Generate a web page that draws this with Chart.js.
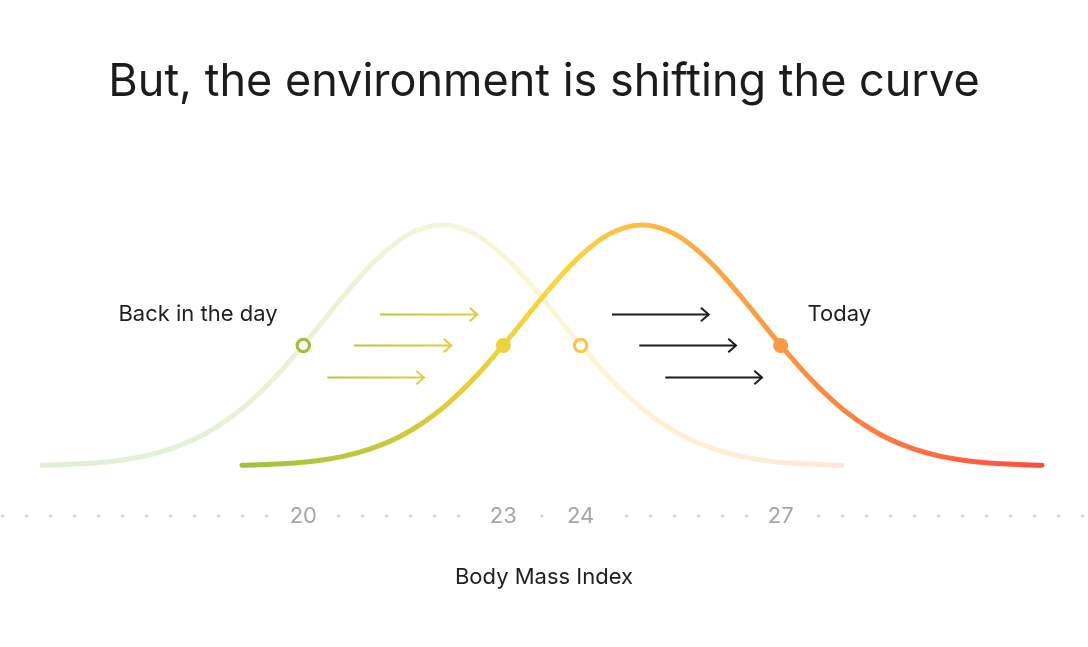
<!DOCTYPE html>
<html>
<head>
<meta charset="utf-8">
<script src="https://cdn.jsdelivr.net/npm/chart.js@4.4.1/dist/chart.umd.min.js"></script>
<style>
  html, body { margin: 0; padding: 0; background: #ffffff; }
  #wrap { width: 1088px; height: 647px; position: relative; }
</style>
</head>
<body>
<div id="wrap"><canvas id="chart"></canvas></div>
<script>
// Body Mass Index position of each sample along the two curves
const pastX = [16, 16.5, 17, 17.5, 18, 18.5, 19, 19.5, 20, 20.5, 21, 21.5, 22, 22.5, 23, 23.5, 24, 24.5, 25, 25.5, 26, 26.5, 27, 27.5, 28]
const pastY = [0.3, 0.8, 1.8, 3.9, 7.8, 14.2, 23.8, 36.9, 52.8, 69.8, 85.2, 96.1, 100, 96.1, 85.2, 69.8, 52.8, 36.9, 23.8, 14.2, 7.8, 3.9, 1.8, 0.8, 0.3]
const todayX = [19, 19.5, 20, 20.5, 21, 21.5, 22, 22.5, 23, 23.5, 24, 24.5, 25, 25.5, 26, 26.5, 27, 27.5, 28, 28.5, 29, 29.5, 30, 30.5, 31]
const todayY = [0.3, 0.8, 1.8, 3.9, 7.8, 14.2, 23.8, 36.9, 52.8, 69.8, 85.2, 96.1, 100, 96.1, 85.2, 69.8, 52.8, 36.9, 23.8, 14.2, 7.8, 3.9, 1.8, 0.8, 0.3]

// marked points (half height of each curve)
const pastMarkX = [19.92, 24.08]
const pastMarkY = [50, 50]
const todayMarkX = [22.92, 27.08]
const todayMarkY = [50, 50]

// tick labels on the axis, placed at the marked points
const tickValues = [19.92, 22.92, 24.08, 27.08]
const tickLabels = ['20', '23', '24', '27']

// shift arrows
const arrowY = [63, 50, 37]
const pastArrowFrom = [21.07, 20.68, 20.28]
const pastArrowTo = [22.53, 22.14, 21.73]
const todayArrowFrom = [24.55, 24.96, 25.35]
const todayArrowTo = [26.0, 26.41, 26.8]

// curve labels
const curveLabels = ['Back in the day', 'Today']
const curveLabelX = [18.34, 27.96]
const curveLabelY = [63, 63]

const FONT = 'Inter, "Noto Sans", sans-serif'

const pastStops = [[0, '#e0eed8'], [0.3, '#eaf2d6'], [0.5, '#f4f5da'], [0.65, '#fcf5d6'], [0.8, '#fef0d6'], [1, '#fde6dc']]
const todayStops = [[0, '#9cc23e'], [0.22, '#d2cb3c'], [0.325, '#eed341'], [0.395, '#fdd543'], [0.495, '#fdbd46'], [0.673, '#fa9842'], [0.818, '#ff7545'], [1, '#ff4d3f']]

function curveGradient(chart, stops, from, to) {
  const area = chart.chartArea
  if (!area) return stops[0][1]
  const xs = chart.scales.x
  const g = chart.ctx.createLinearGradient(xs.getPixelForValue(from), 0, xs.getPixelForValue(to), 0)
  stops.forEach(([o, c]) => g.addColorStop(o, c))
  return g
}

const dottedAxis = {
  id: 'dottedAxis',
  afterDraw(chart) {
    const scale = chart.scales.x
    const ctx = chart.ctx
    const tickOpts = scale.options.ticks
    const font = Chart.helpers.toFont(tickOpts.font)
    const y = scale.top + tickOpts.padding + font.lineHeight / 2
    ctx.save()
    ctx.font = font.string
    const zones = scale.ticks.map((t, i) => {
      const px = scale.getPixelForValue(t.value)
      const half = ctx.measureText(tickLabels[i]).width / 2 + 17
      return [px - half, px + half]
    })
    const inZone = (px) => zones.some(([a, b]) => px > a && px < b)
    const dots = []
    for (let px = chart.chartArea.left + 2.7; px <= chart.chartArea.right; px += 24) {
      if (!inZone(px)) dots.push(px)
    }
    for (let i = 0; i < zones.length - 1; i++) {
      const a = zones[i][1]
      const b = zones[i + 1][0]
      if (b > a && !dots.some((d) => d > a && d < b)) dots.push((a + b) / 2)
    }
    ctx.fillStyle = '#d2d2d2'
    dots.forEach((px) => {
      ctx.beginPath()
      ctx.arc(px, y, 1.6, 0, Math.PI * 2)
      ctx.fill()
    })
    ctx.restore()
  }
}

const annotations = {
  id: 'annotations',
  afterDatasetsDraw(chart) {
    const { ctx, scales: { x, y } } = chart
    ctx.save()

    const drawArrow = (from, to, yv, color) => {
      const x0 = x.getPixelForValue(from)
      const x1 = x.getPixelForValue(to)
      const py = Math.round(y.getPixelForValue(yv)) + 0.5
      let stroke = color
      if (Array.isArray(color)) {
        stroke = ctx.createLinearGradient(x0, 0, x1, 0)
        stroke.addColorStop(0, color[0])
        stroke.addColorStop(1, color[1])
      }
      ctx.strokeStyle = stroke
      ctx.lineWidth = 2
      ctx.lineCap = 'butt'
      ctx.lineJoin = 'miter'
      ctx.beginPath()
      ctx.moveTo(x0, py)
      ctx.lineTo(x1, py)
      ctx.stroke()
      ctx.beginPath()
      ctx.moveTo(x1 - 7.7, py - 6.7)
      ctx.lineTo(x1, py)
      ctx.lineTo(x1 - 7.7, py + 6.7)
      ctx.stroke()
    }

    arrowY.forEach((yv, i) => {
      drawArrow(pastArrowFrom[i], pastArrowTo[i], yv, ['#b6c83c', '#e0cd3e'])
      drawArrow(todayArrowFrom[i], todayArrowTo[i], yv, '#1c1c1c')
    })

    ctx.fillStyle = '#1f1f1f'
    ctx.font = '22px ' + FONT
    ctx.textAlign = 'center'
    ctx.textBaseline = 'middle'
    curveLabels.forEach((text, i) => {
      ctx.fillText(text, x.getPixelForValue(curveLabelX[i]), y.getPixelForValue(curveLabelY[i]))
    })
    ctx.restore()
  }
}

const toPoints = (xs, ys) => xs.map((v, i) => ({ x: v, y: ys[i] }))

new Chart(document.getElementById('chart'), {
  type: 'line',
  data: {
    datasets: [
      {
        label: 'Back in the day',
        data: toPoints(pastX, pastY),
        borderColor: (c) => curveGradient(c.chart, pastStops, pastX[0], pastX[pastX.length - 1]),
        borderWidth: 5,
        borderCapStyle: 'round',
        cubicInterpolationMode: 'monotone',
        pointRadius: 0,
        fill: false,
        order: 4
      },
      {
        label: 'Today',
        data: toPoints(todayX, todayY),
        borderColor: (c) => curveGradient(c.chart, todayStops, todayX[0], todayX[todayX.length - 1]),
        borderWidth: 5,
        borderCapStyle: 'round',
        cubicInterpolationMode: 'monotone',
        pointRadius: 0,
        fill: false,
        order: 3
      },
      {
        label: 'Back in the day marks',
        data: toPoints(pastMarkX, pastMarkY),
        showLine: false,
        pointRadius: 6.2,
        pointBorderWidth: 3.2,
        pointBackgroundColor: '#ffffff',
        pointBorderColor: ['#9fc042', '#f7c748'],
        order: 2
      },
      {
        label: 'Today marks',
        data: toPoints(todayMarkX, todayMarkY),
        showLine: false,
        pointRadius: 7.5,
        pointBorderWidth: 0,
        pointBackgroundColor: ['#ebd03f', '#fa9a45'],
        order: 1
      }
    ]
  },
  options: {
    responsive: true,
    maintainAspectRatio: false,
    animation: false,
    layout: { padding: 0, autoPadding: false },
    plugins: {
      legend: { display: false },
      tooltip: { enabled: false },
      title: {
        display: true,
        text: 'But, the environment is shifting the curve',
        color: '#1c1c1c',
        font: { family: FONT, size: 45, weight: '400', lineHeight: 1.2 },
        padding: { top: 55, bottom: 91.9 }
      }
    },
    scales: {
      x: {
        type: 'linear',
        min: 15.37,
        max: 31.69,
        grid: { display: false, drawTicks: false },
        border: { display: false },
        afterBuildTicks: (scale) => {
          scale.ticks = tickValues.map((v) => ({ value: v }))
        },
        ticks: {
          padding: 0,
          autoSkip: false,
          maxRotation: 0,
          color: '#a6a6a6',
          font: { family: FONT, size: 22, lineHeight: 1.2 },
          callback: (value, index) => tickLabels[index]
        },
        title: {
          display: true,
          text: 'Body Mass Index',
          color: '#1f1f1f',
          font: { family: FONT, size: 22, lineHeight: 1.2 },
          padding: { top: 34.6, bottom: 56.8 }
        }
      },
      y: {
        display: false,
        min: -15.27,
        max: 110
      }
    }
  },
  plugins: [dottedAxis, annotations]
})
</script>
</body>
</html>
